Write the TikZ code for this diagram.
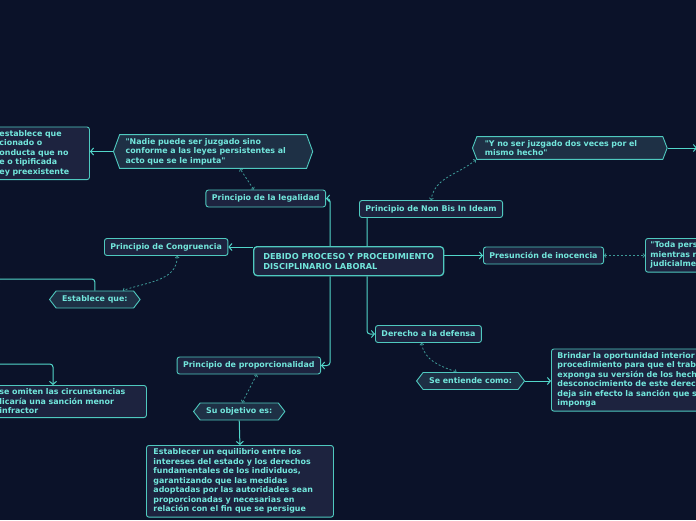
\documentclass[tikz,border=0pt]{standalone}
\usepackage{fontspec}
\setmainfont{DejaVu Sans}
\usepackage{tikz}
\usetikzlibrary{arrows.meta,calc,shapes.symbols,backgrounds}
\definecolor{Night}{HTML}{0B1229}
\definecolor{Card}{HTML}{1D233F}
\definecolor{CardTeal}{HTML}{1E3045}
\definecolor{Edge}{HTML}{4FC9BF}
\definecolor{Ink}{HTML}{72E6DC}
\definecolor{Wire}{HTML}{52D6CA}
\definecolor{WireDim}{HTML}{3E9A98}
\tikzset{
  card/.style={draw=Edge,fill=Card,line width=.9pt,rounded corners=2.5pt,text=Ink,font=\bfseries\fontsize{7.9}{9.5}\selectfont,align=left,inner xsep=6pt,inner ysep=3.5pt,minimum height=17pt},
  hub/.style={card,line width=1.3pt,rounded corners=3.5pt,inner xsep=8pt,minimum width=190pt,minimum height=29pt,font=\bfseries\fontsize{8.2}{10}\selectfont},
  tag/.style={card,fill=CardTeal,rounded corners=0pt,shape=signal,signal to=west and east,signal pointer angle=105,inner xsep=6pt},
  link/.style={draw=Wire,line width=1pt,rounded corners=3pt,-{Straight Barb[length=3pt,width=7pt]}},
  hint/.style={draw=WireDim,line width=.8pt,dash pattern=on 2pt off 2pt,{Straight Barb[length=1.5pt,width=4pt]}-{Straight Barb[length=1.5pt,width=4pt]}}
}
\begin{document}
\begin{tikzpicture}[x=1pt,y=1pt]
  \useasboundingbox (0,0) rectangle (696,-520);
  \begin{scope}[on background layer]
    \fill[Night] (0,0) rectangle (696,-520);
  \end{scope}
  \node[hub,anchor=north west] (root) at (253,-246) {DEBIDO PROCESO Y PROCEDIMIENTO\\DISCIPLINARIO LABORAL};
  \node[card,anchor=east] (legal) at (326,-198.5) {Principio de la legalidad};
  \node[card,anchor=west] (congr) at (104,-247) {Principio de Congruencia};
  \node[card,anchor=west] (nonbis) at (359,-209) {Principio de Non Bis In Ideam};
  \node[card,anchor=west] (presun) at (483,-255.5) {Presunción de inocencia};
  \node[card,anchor=west] (derecho) at (375,-334) {Derecho a la defensa};
  \node[card,anchor=east] (prop) at (321,-365.5) {Principio de proporcionalidad};
  \node[tag,anchor=west,signal pointer angle=140,text width=175pt] (nadie) at (113,-151.5) {\textquotedbl Nadie puede ser juzgado sino\\conforme a las leyes persistentes al\\acto que se le imputa\textquotedbl};
  \node[tag,anchor=west,signal pointer angle=138,inner xsep=8pt,text width=170pt] (ynoser) at (472,-148) {\textquotedbl Y no ser juzgado dos veces por el\\mismo hecho\textquotedbl};
  \node[tag,anchor=west] (estab) at (49,-299.5) {Establece que:};
  \node[tag,anchor=west] (suobj) at (193,-411.5) {Su objetivo es:};
  \node[tag,anchor=west] (seent) at (416,-381) {Se entiende como:};
  \node[card,anchor=north west,inner xsep=7pt,text width=83pt] (topL) at (-8,-126.5) {establece que\\cionado o\\onducta que no\\e o tipificada\\ey preexistente};
  \node[card,anchor=north west,inner xsep=7pt,text width=140pt] (omit) at (-8,-385) {se omiten las circunstancias\\licaría una sanción menor\\infractor};
  \node[card,anchor=north west,inner xsep=5pt,text width=90pt] (toda) at (645,-238) {\textquotedbl Toda pers\\mientras n\\judicialme};
  \node[card,anchor=north west,inner xsep=6pt,text width=160pt] (brindar) at (551,-348.5) {Brindar la oportunidad interior\\procedimiento para que el trab\\exponga su versión de los hech\\desconocimiento de este derech\\deja sin efecto la sanción que s\\imponga};
  \node[card,anchor=north west,inner xsep=7pt,text width=173pt] (establ) at (146,-445) {Establecer un equilibrio entre los\\intereses del estado y los derechos\\fundamentales de los individuos,\\garantizando que las medidas\\adoptadas por las autoridades sean\\proporcionadas y necesarias en\\relación con el fin que se persigue};
  \coordinate (spineL) at (330,0);
  \coordinate (spineR) at (367,0);
  \coordinate (offEast) at (697,-148);
  \coordinate (offWestA) at (-4,-279);
  \coordinate (offWestB) at (-4,-364);
  \coordinate (dropL) at (53,0);
  \begin{scope}[on background layer]
    \draw[link] (spineL |- root.north) |- (legal.east);
    \draw[link] (spineL |- root.south) |- (prop.east);
    \draw[link] (spineR |- root.north) |- (nonbis.west);
    \draw[link] (spineR |- root.south) |- (derecho.west);
    \draw[link] (root.west |- congr.east) -- (congr.east);
    \draw[link] (root.east |- presun.west) -- (presun.west);
    \draw[link] (nadie.west) -- (topL.east |- nadie.west);
    \draw[link] (ynoser.east) -- (offEast);
    \draw[link] (estab.north) |- (offWestA);
    \draw[link] (offWestB) -| (dropL |- omit.north);
    \draw[link] (seent.east) -- (brindar.west |- seent.east);
    \draw[link] (suobj.south) -- (establ.north);
    \draw[hint] ($(legal.north)!.2!(legal.north west)$) -- ($(nadie.south)+(27,0)$);
    \draw[hint] ($(congr.south)+(11,0)$) to[out=-90,in=20] ($(estab.north)+(28,0)$);
    \draw[hint] ($(ynoser.south)+(-94,0)$) to[out=-140,in=80] (nonbis.north);
    \draw[hint] (presun.east) -- (toda.west |- presun.east);
    \draw[hint] ($(derecho.south)+(-7,0)$) to[out=-80,in=160] ($(seent.north)+(-14,0)$);
    \draw[hint] ($(prop.south)+(8,0)$) -- ($(suobj.north)+(3,0)$);
  \end{scope}
\end{tikzpicture}
\end{document}
